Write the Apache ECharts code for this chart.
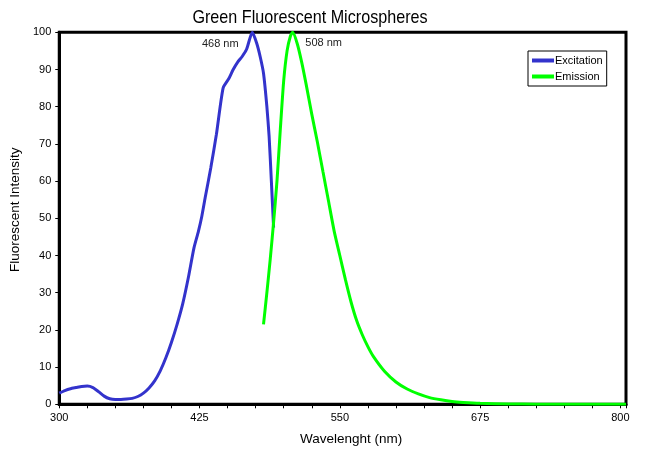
<!DOCTYPE html>
<html lang="en">
<head>
    <meta charset="utf-8">
    <title>Green Fluorescent Microspheres</title>
    <script src="https://cdn.jsdelivr.net/npm/echarts@6/dist/echarts.min.js"></script>
    <style>
        html, body { margin: 0; padding: 0; background: #fff; }
        #chart { width: 655px; height: 453px; }
    </style>
</head>
<body>
<div id="chart"></div>
<script type="text/javascript">
    // wavelength (nm) / intensity pairs
    var excitationNm = [300, 305, 310, 315, 320, 325, 330, 335, 340, 345, 350, 355, 360, 365, 370, 375, 380, 385, 390,
        395, 400, 405, 410, 415, 420, 424, 427, 430, 435, 440, 446, 451, 455, 459, 463, 467, 472, 476, 479, 482, 485, 487, 489, 491];
    var excitationVal = [3.0, 3.7, 4.2, 4.5, 4.8, 4.9, 4.5, 3.4, 2.2, 1.5, 1.3, 1.3, 1.4, 1.6, 2.1, 3.0, 4.4, 6.3, 9.0,
        12.5, 16.7, 21.5, 27, 34, 42, 46.5, 50.5, 55.5, 63.5, 72.5, 85, 87.5, 90, 92, 93.5, 95.5, 100, 97, 93.5, 89, 80, 72, 60, 47.5];

    var emissionNm = [482, 485, 488, 491, 494, 497, 500, 503, 506, 508, 512, 516, 520, 525, 530, 535, 540, 545, 550, 555,
        560, 565, 570, 575, 580, 590, 600, 610, 620, 630, 640, 650, 660, 675, 700, 725, 750, 775, 800, 805];
    var emissionVal = [21.5, 30, 39, 49, 60, 74, 87, 95, 99, 100, 97, 92, 86, 78, 70.5, 62.5, 54.5, 46.5, 40, 33.5,
        27.5, 22.5, 18.7, 15.5, 12.8, 8.8, 6.0, 4.1, 2.8, 1.8, 1.2, 0.75, 0.5, 0.25, 0.08, 0.04, 0.03, 0.03, 0.03, 0.03];

    var xTickLabels = [300, 425, 550, 675, 800];
    var peakLabels = ['468 nm', '508 nm'];

    function pairs(xs, ys) {
        return xs.map(function (x, i) { return [x, ys[i]]; });
    }

    var font = '"Liberation Sans", Arial, sans-serif';

    var myChart = echarts.init(document.getElementById('chart'));
    var option = {
        animation: false,
        backgroundColor: '#fff',
        // title squeezed a little to look like the narrow face of the original
        graphic: [{
            type: 'text',
            x: 310,
            y: 8,
            scaleX: 0.85,
            style: {
                text: 'Green Fluorescent Microspheres',
                textAlign: 'center',
                fontFamily: font,
                fontSize: 19,
                fill: '#000'
            }
        }],
        legend: {
            orient: 'vertical',
            left: 528,
            top: 51,
            padding: [4, 4, 4, 4],
            borderColor: '#000',
            borderWidth: 1,
            itemGap: 5,
            itemWidth: 22,
            itemHeight: 4,
            icon: 'rect',
            textStyle: { fontFamily: font, fontSize: 11, color: '#000', padding: [0, 0, 0, -4] },
            data: ['Excitation', 'Emission']
        },
        grid: {
            left: 58.5,
            right: 29,
            top: 32.3,
            bottom: 48.7,
            show: true,
            borderColor: '#000',
            borderWidth: 3
        },
        xAxis: {
            type: 'value',
            min: 300,
            max: 805,   // plot frame runs a little past the last tick
            interval: 25,
            name: 'Wavelenght (nm)',
            nameLocation: 'middle',
            nameGap: 28,
            nameTextStyle: { fontFamily: font, fontSize: 13.5, color: '#000', padding: [0, 0, 0, 17] },
            axisLine: { lineStyle: { color: '#000', width: 3 } },
            axisTick: { length: 4, lineStyle: { color: '#000', width: 1 } },
            axisLabel: {
                fontFamily: font, fontSize: 11, color: '#000', margin: 8,
                formatter: function (v) {
                    return xTickLabels.indexOf(v) >= 0 ? String(v) : '';
                }
            },
            splitLine: { show: false }
        },
        yAxis: {
            type: 'value',
            min: 0,
            max: 100,
            interval: 10,
            name: 'Fluorescent Intensity',
            nameLocation: 'middle',
            nameGap: 35,
            nameTextStyle: { fontFamily: font, fontSize: 13.5, color: '#000', padding: [0, 0, 0, 17] },
            axisLine: { lineStyle: { color: '#000', width: 3 } },
            axisTick: { length: 4, lineStyle: { color: '#000', width: 1 } },
            axisLabel: { fontFamily: font, fontSize: 11, color: '#000', margin: 8 },
            splitLine: { show: false }
        },
        series: [
            {
                name: 'Excitation',
                type: 'line',
                data: pairs(excitationNm, excitationVal),
                showSymbol: false,
                smooth: 0.2,
                color: '#3333CC',
                lineStyle: { width: 3, color: '#3333CC' },
                markPoint: {
                    symbol: 'circle',
                    symbolSize: 0,
                    label: {
                        show: true, position: 'inside', offset: [-32, 12], formatter: peakLabels[0],
                        fontFamily: font, fontSize: 11, color: '#222'
                    },
                    data: [{ coord: [472, 100] }]
                }
            },
            {
                name: 'Emission',
                type: 'line',
                data: pairs(emissionNm, emissionVal),
                showSymbol: false,
                smooth: 0.2,
                color: '#00FF00',
                lineStyle: { width: 3, color: '#00FF00' },
                markPoint: {
                    symbol: 'circle',
                    symbolSize: 0,
                    label: {
                        show: true, position: 'inside', offset: [31, 11], formatter: peakLabels[1],
                        fontFamily: font, fontSize: 11, color: '#222'
                    },
                    data: [{ coord: [508, 100] }]
                }
            }
        ]
    };
    myChart.setOption(option);
</script>
</body>
</html>
